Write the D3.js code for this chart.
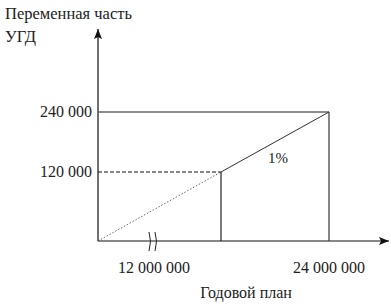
<!DOCTYPE html>
<html><head><meta charset="utf-8">
<script src="https://cdn.jsdelivr.net/npm/d3@7"></script>
<style>body{margin:0;background:#fff}svg{display:block}</style>
</head><body><svg id="c" width="391" height="307" font-family="'Liberation Serif', 'Times New Roman', Tinos, 'DejaVu Serif', serif"></svg>
<script>
// data
const xValues = [0, 12000000, 24000000];
const yValues = [0, 120000, 240000];
const xTickLabels = ["12 000 000", "24 000 000"];
const yTickLabels = ["240 000", "120 000"];
const yTitle = ["Переменная часть", "УГД"];
const xTitle = "Годовой план";
const rateLabel = "1%";
const kinkX = 12000000, kinkY = 120000, planX = 24000000, planY = 240000;

const svg = d3.select("#c");
const x = d3.scaleLinear().domain(xValues).range([98, 221, 329]);
const y = d3.scaleLinear().domain(yValues).range([241, 172, 112]);

const defs = svg.append("defs");
defs.append("marker").attr("id","ah").attr("viewBox","0 0 10 10").attr("refX",10).attr("refY",5)
  .attr("markerWidth",10).attr("markerHeight",10).attr("markerUnits","userSpaceOnUse").attr("orient","auto")
  .append("path").attr("d","M0,1 L10,5 L0,9 L2,5 Z").attr("fill","#111");

svg.append("line").attr("x1",x(0)).attr("y1",y(0)).attr("x2",x(0)).attr("y2",29)
  .attr("stroke","#111").attr("stroke-width",1.2).attr("marker-end","url(#ah)");
svg.append("line").attr("x1",x(0)).attr("y1",y(0)).attr("x2",389).attr("y2",y(0))
  .attr("stroke","#111").attr("stroke-width",1.2).attr("marker-end","url(#ah)");

svg.append("line").attr("x1",x(0)).attr("x2",x(planX)).attr("y1",y(planY)).attr("y2",y(planY))
  .attr("stroke","#666").attr("stroke-width",1.6);
svg.append("line").attr("x1",x(0)).attr("x2",x(kinkX)).attr("y1",y(kinkY)).attr("y2",y(kinkY))
  .attr("stroke","#111").attr("stroke-width",1).attr("stroke-dasharray","4,2");
svg.append("line").attr("x1",x(kinkX)).attr("x2",x(kinkX)).attr("y1",y(kinkY)).attr("y2",y(0))
  .attr("stroke","#111").attr("stroke-width",1.1);
svg.append("line").attr("x1",x(planX)).attr("x2",x(planX)).attr("y1",y(planY)).attr("y2",y(0))
  .attr("stroke","#444").attr("stroke-width",1.3);
svg.append("line").attr("x1",x(0)).attr("y1",y(0)).attr("x2",x(kinkX)).attr("y2",y(kinkY))
  .attr("stroke","#555").attr("stroke-width",0.9).attr("stroke-dasharray","1.5,1.8");
svg.append("line").attr("x1",x(kinkX)).attr("y1",y(kinkY)).attr("x2",x(planX)).attr("y2",y(planY))
  .attr("stroke","#333").attr("stroke-width",1);

const bx = 153;
[-3, 3].forEach(d => {
  svg.append("path").attr("d", `M${bx+d-1},232 Q${bx+d+2},241 ${bx+d-1},251`)
    .attr("fill","none").attr("stroke","#222").attr("stroke-width",1);
});

const T = {fill:"#222"};
svg.selectAll(".yl").data(yTickLabels).enter().append("text")
  .attr("x",92).attr("y",(d,i)=>y(yValues[2-i])+5).attr("text-anchor","end").attr("fill",T.fill)
  .attr("font-size",16).text(d=>d);
svg.append("text").attr("x",154).attr("y",273).attr("text-anchor","middle").attr("font-size",16).attr("fill",T.fill).text(xTickLabels[0]);
svg.append("text").attr("x",x(planX)).attr("y",273).attr("text-anchor","middle").attr("font-size",16).attr("fill",T.fill).text(xTickLabels[1]);
svg.append("text").attr("x",246).attr("y",298).attr("text-anchor","middle").attr("font-size",16).attr("fill",T.fill).text(xTitle);
svg.selectAll(".yt").data(yTitle).enter().append("text")
  .attr("x",5).attr("y",(d,i)=>19+i*23).attr("font-size",16.5).attr("fill",T.fill).text(d=>d);
svg.append("text").attr("x",278).attr("y",163).attr("text-anchor","middle").attr("font-size",15).attr("fill",T.fill).text(rateLabel);
</script></body></html>
